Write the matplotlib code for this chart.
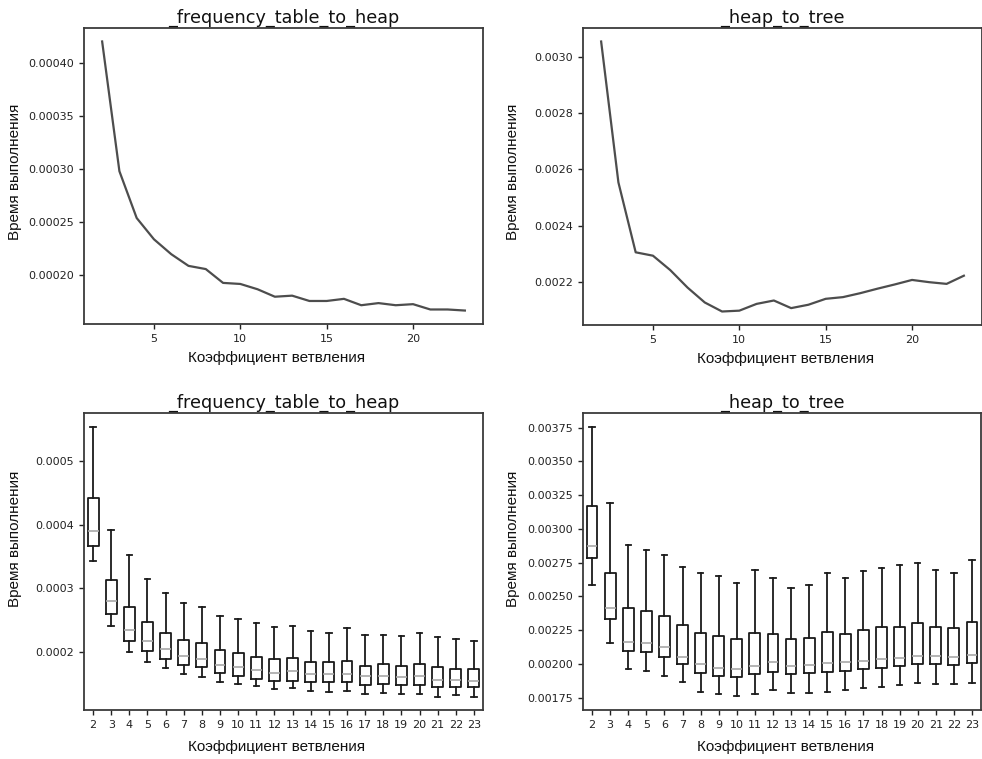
import matplotlib
matplotlib.use("Agg")
import matplotlib.pyplot as plt

# ---------------- data ----------------
branching = list(range(2, 24))

ft_heap_mean = [0.000420, 0.000298, 0.000254, 0.000234, 0.000220, 0.000209, 0.000206,
                0.000193, 0.000192, 0.000187, 0.000180, 0.000181, 0.000176, 0.000176,
                0.000178, 0.000172, 0.000174, 0.000172, 0.000173, 0.000168, 0.000168,
                0.000167]

heap_tree_mean = [0.003054, 0.002554, 0.002306, 0.002294, 0.002243, 0.002181, 0.002128,
                  0.002096, 0.002099, 0.002123, 0.002135, 0.002108, 0.002120, 0.002141,
                  0.002147, 0.002161, 0.002177, 0.002192, 0.002208, 0.002200, 0.002194,
                  0.002223]

# box statistics: frequency_table_to_heap
ft_whishi = [0.000554, 0.000391, 0.000352, 0.000315, 0.000293, 0.000277, 0.000271, 0.000256,
             0.000252, 0.000245, 0.000239, 0.000241, 0.000233, 0.000230, 0.000237, 0.000226,
             0.000226, 0.000225, 0.000229, 0.000223, 0.000220, 0.000216]
ft_q3 = [0.000442, 0.000313, 0.000270, 0.000246, 0.000230, 0.000218, 0.000214, 0.000202,
         0.000198, 0.000192, 0.000188, 0.000190, 0.000184, 0.000184, 0.000185, 0.000178,
         0.000180, 0.000178, 0.000181, 0.000175, 0.000173, 0.000172]
ft_med = [0.000390, 0.000279, 0.000234, 0.000217, 0.000204, 0.000193, 0.000189, 0.000179,
          0.000175, 0.000171, 0.000167, 0.000169, 0.000165, 0.000164, 0.000165, 0.000161,
          0.000161, 0.000160, 0.000161, 0.000156, 0.000156, 0.000154]
ft_q1 = [0.000367, 0.000259, 0.000217, 0.000201, 0.000189, 0.000179, 0.000176, 0.000166,
         0.000162, 0.000157, 0.000154, 0.000154, 0.000152, 0.000152, 0.000152, 0.000148,
         0.000149, 0.000148, 0.000148, 0.000144, 0.000144, 0.000144]
ft_whislo = [0.000343, 0.000241, 0.000199, 0.000184, 0.000174, 0.000165, 0.000160, 0.000152,
             0.000149, 0.000146, 0.000141, 0.000142, 0.000138, 0.000137, 0.000138, 0.000134,
             0.000135, 0.000134, 0.000134, 0.000129, 0.000131, 0.000129]

# box statistics: heap_to_tree
ht_whishi = [0.003755, 0.003193, 0.002884, 0.002842, 0.002803, 0.002719, 0.002677, 0.002650,
             0.002601, 0.002695, 0.002640, 0.002564, 0.002588, 0.002677, 0.002638, 0.002690,
             0.002714, 0.002729, 0.002751, 0.002695, 0.002677, 0.002773]
ht_q3 = [0.003168, 0.002677, 0.002411, 0.002394, 0.002354, 0.002288, 0.002231, 0.002206,
         0.002182, 0.002231, 0.002221, 0.002182, 0.002194, 0.002233, 0.002223, 0.002248,
         0.002270, 0.002275, 0.002300, 0.002275, 0.002263, 0.002312]
ht_med = [0.002875, 0.002411, 0.002164, 0.002157, 0.002122, 0.002053, 0.001997, 0.001972,
          0.001962, 0.001984, 0.002014, 0.001984, 0.001989, 0.002004, 0.002014, 0.002024,
          0.002034, 0.002041, 0.002058, 0.002058, 0.002048, 0.002063]
ht_q1 = [0.002781, 0.002330, 0.002098, 0.002085, 0.002048, 0.001997, 0.001930, 0.001910,
         0.001900, 0.001923, 0.001940, 0.001925, 0.001930, 0.001940, 0.001950, 0.001962,
         0.001972, 0.001982, 0.001997, 0.001999, 0.001992, 0.002004]
ht_whislo = [0.002584, 0.002157, 0.001962, 0.001947, 0.001910, 0.001863, 0.001789, 0.001777,
             0.001762, 0.001777, 0.001807, 0.001787, 0.001787, 0.001794, 0.001807, 0.001819,
             0.001826, 0.001844, 0.001861, 0.001849, 0.001849, 0.001861]

title_ft = "_frequency_table_to_heap"
title_ht = "_heap_to_tree"
xlabel = "Коэффициент ветвления"
ylabel = "Время выполнения"

# ---------------- figure ----------------
W, H = 982, 759
fig = plt.figure(figsize=(W / 100, H / 100), dpi=100)


def px_axes(left, top, right, bottom):
    return fig.add_axes([left / W, 1 - bottom / H, (right - left) / W, (bottom - top) / H])


LABEL_FONT = ["Liberation Sans", "DejaVu Sans"]
SPINE_COLOR = "#3a3a3a"


def style(ax, title, xl_px, yl_px, box):
    left, top, right, bottom = box
    ax.set_title(title, fontsize=12.7, pad=4, color="#111111")
    for s in ax.spines.values():
        s.set_color(SPINE_COLOR)
        s.set_linewidth(1.3)
    ax.tick_params(labelsize=8, colors="#222222", length=3.5, width=1)
    ax.set_xlabel(xlabel, fontsize=11, family=LABEL_FONT, color="#111111")
    ax.set_ylabel(ylabel, fontsize=11, family=LABEL_FONT, color="#111111")
    wpx, hpx = right - left, bottom - top
    ax.xaxis.set_label_coords((xl_px[0] - left) / wpx, (bottom - xl_px[1]) / hpx)
    ax.xaxis.label.set_va("center")
    ax.yaxis.set_label_coords((yl_px[0] - left) / wpx, (bottom - yl_px[1]) / hpx)
    ax.yaxis.label.set_va("center")


LINE_COLOR = "#4d4d4d"

# top-left
b1 = (84, 28, 483, 324)
ax1 = px_axes(*b1)
ax1.plot(branching, ft_heap_mean, color=LINE_COLOR, lw=1.6)
ax1.set_xticks([5, 10, 15, 20])
yt1 = [0.00020, 0.00025, 0.00030, 0.00035, 0.00040]
ax1.set_yticks(yt1)
ax1.set_yticklabels([f"{v:.5f}" for v in yt1])
style(ax1, title_ft, (277, 358), (15, 172), b1)

# top-right
b2 = (583, 28, 982, 325)
ax2 = px_axes(*b2)
ax2.plot(branching, heap_tree_mean, color=LINE_COLOR, lw=1.6)
ax2.set_xticks([5, 10, 15, 20])
yt2 = [0.0022, 0.0024, 0.0026, 0.0028, 0.0030]
ax2.set_yticks(yt2)
ax2.set_yticklabels([f"{v:.4f}" for v in yt2])
style(ax2, title_ht, (786, 359), (513, 172), b2)


def make_stats(lo, q1, med, q3, hi):
    return [dict(whislo=a, q1=b, med=c, q3=d, whishi=e, fliers=[])
            for a, b, c, d, e in zip(lo, q1, med, q3, hi)]


box_kw = dict(
    widths=0.6,
    boxprops=dict(color="#1a1a1a", lw=1.3),
    whiskerprops=dict(color="#1a1a1a", lw=1.3),
    capprops=dict(color="#1a1a1a", lw=1.3),
    medianprops=dict(color="#a8a8a8", lw=1.2),
    showfliers=False,
)

# bottom-left
b3 = (84, 413, 483, 710)
ax3 = px_axes(*b3)
ax3.bxp(make_stats(ft_whislo, ft_q1, ft_med, ft_q3, ft_whishi), **box_kw)
ax3.set_xticks(range(1, len(branching) + 1))
ax3.set_xticklabels([str(b) for b in branching])
ax3.set_xlim(0.5, len(branching) + 0.5)
ax3.set_ylim(0.000108, 0.000576)
yt3 = [0.0002, 0.0003, 0.0004, 0.0005]
ax3.set_yticks(yt3)
ax3.set_yticklabels([f"{v:.4f}" for v in yt3])
style(ax3, title_ft, (277, 747), (15, 539), b3)

# bottom-right
b4 = (583, 413, 981, 710)
ax4 = px_axes(*b4)
ax4.bxp(make_stats(ht_whislo, ht_q1, ht_med, ht_q3, ht_whishi), **box_kw)
ax4.set_xticks(range(1, len(branching) + 1))
ax4.set_xticklabels([str(b) for b in branching])
ax4.set_xlim(0.5, len(branching) + 0.5)
ax4.set_ylim(0.001659, 0.003858)
yt4 = [0.00175, 0.00200, 0.00225, 0.00250, 0.00275, 0.00300, 0.00325, 0.00350, 0.00375]
ax4.set_yticks(yt4)
ax4.set_yticklabels([f"{v:.5f}" for v in yt4])
style(ax4, title_ht, (786, 747), (513, 539), b4)

fig.savefig("out.png", dpi=100)
